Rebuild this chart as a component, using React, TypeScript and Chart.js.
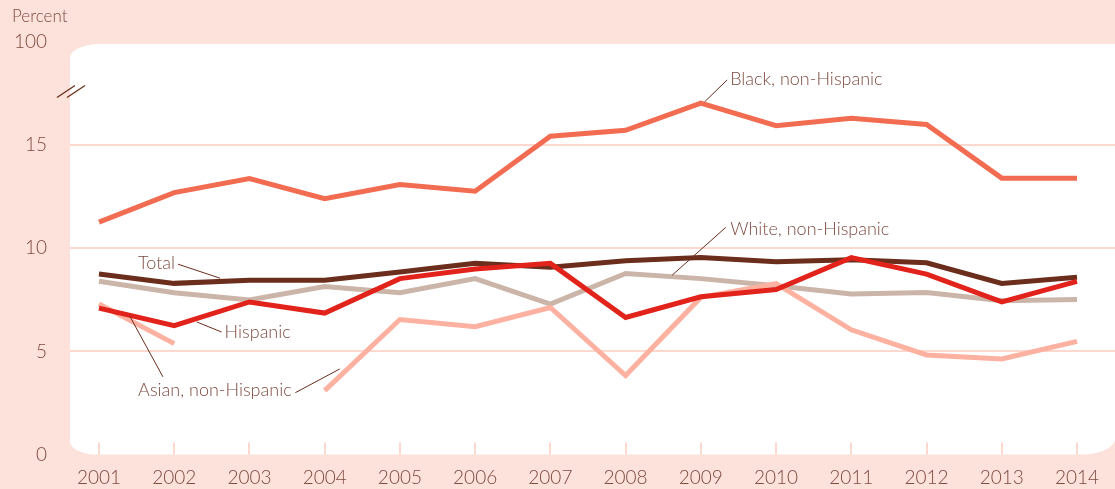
import React, { useEffect, useRef } from "react";
import { Chart, registerables } from "chart.js";

Chart.register(...registerables);

// ---------- data ----------
const years = [2001, 2002, 2003, 2004, 2005, 2006, 2007, 2008, 2009, 2010, 2011, 2012, 2013, 2014];
const blackNH = [11.27, 12.7, 13.38, 12.4, 13.09, 12.77, 15.43, 15.72, 17.04, 15.94, 16.3, 16.0, 13.4, 13.4];
const total = [8.75, 8.3, 8.45, 8.45, 8.85, 9.27, 9.08, 9.4, 9.55, 9.35, 9.45, 9.3, 8.3, 8.6];
const whiteNH = [8.4, 7.85, 7.5, 8.15, 7.85, 8.53, 7.3, 8.78, 8.53, 8.18, 7.78, 7.86, 7.46, 7.52];
const hispanic = [7.1, 6.25, 7.4, 6.86, 8.53, 9.0, 9.27, 6.65, 7.65, 8.0, 9.55, 8.75, 7.4, 8.4];
const asianNH: (number | null)[] = [7.3, 5.38, null, 3.1, 6.55, 6.2, 7.13, 3.83, 7.62, 8.29, 6.05, 4.83, 4.64, 5.49];
const yTicks = [0, 5, 10, 15, 20];
const yTickLabels = ["0", "5", "10", "15", "100"];
const gridValues = [5, 10, 15];

// label annotations in data units
const annotations: { text: string; x: number; y: number; leaders: number[][] }[] = [
  { text: "Black, non-Hispanic", x: 2009.39, y: 18.2, leaders: [[2009.05, 17.1, 2009.35, 18.16]] },
  { text: "White, non-Hispanic", x: 2009.39, y: 10.92, leaders: [[2009.33, 11.01, 2008.62, 8.7]] },
  { text: "Total", x: 2001.52, y: 9.28, leaders: [[2002.05, 9.23, 2002.61, 8.55]] },
  { text: "Hispanic", x: 2002.67, y: 5.94, leaders: [[2002.3, 6.43, 2002.63, 5.94]] },
  {
    text: "Asian, non-Hispanic",
    x: 2001.52,
    y: 3.14,
    leaders: [
      [2001.41, 6.71, 2001.85, 3.77],
      [2003.61, 3.0, 2004.2, 4.15],
    ],
  },
];

// ---------- style ----------
const BG = "#fde1db";
const GRID = "#fcd8cf";
const TEXT = "#7d4b40";
const LEADER = "#6b2d1c";
const FONT = "Lato";

const C_BLACK = "#f26c52";
const C_TOTAL = "#6b2d1c";
const C_WHITE = "#cbb5a9";
const C_HISP = "#e2231b";
const C_ASIAN = "#fdb1a1";

export default function App() {
  const ref = useRef<HTMLCanvasElement>(null);

  useEffect(() => {
    const canvas = ref.current!;

    const bgPlugin = {
      id: "bgPlugin",
      beforeDraw(chart: any) {
        const { ctx, chartArea: a } = chart;
        ctx.save();
        ctx.fillStyle = BG;
        ctx.fillRect(0, 0, chart.width, chart.height);
        const l = a.left;
        const t = a.top + 2;
        const r = chart.width;
        const b = a.bottom;
        const k = 0.45;
        ctx.fillStyle = "#ffffff";
        ctx.beginPath();
        ctx.moveTo(l, t + 14);
        ctx.bezierCurveTo(l, t + 14 * k, l + 30 * k, t, l + 30, t);
        ctx.lineTo(r, t);
        ctx.lineTo(r, b - 16);
        ctx.bezierCurveTo(r, b - 16 * k, r - 33 * k, b, r - 33, b);
        ctx.lineTo(l + 27, b);
        ctx.bezierCurveTo(l + 27 * k, b, l, b - 13 * k, l, b - 13);
        ctx.closePath();
        ctx.fill();
        ctx.restore();
      },
      beforeDatasetsDraw(chart: any) {
        const { ctx, chartArea: a, scales } = chart;
        ctx.save();
        ctx.strokeStyle = GRID;
        ctx.lineWidth = 2;
        for (const yr of years) {
          const x = Math.round(scales.x.getPixelForValue(yr));
          ctx.beginPath();
          ctx.moveTo(x, a.bottom);
          ctx.lineTo(x, a.bottom - 12);
          ctx.stroke();
        }
        ctx.restore();
      },
      afterDraw(chart: any) {
        const { ctx, chartArea: a, scales } = chart;
        const sx = scales.x;
        const sy = scales.y;
        ctx.save();
        // axis break marks
        const yc = sy.getPixelForValue(17.6);
        ctx.strokeStyle = LEADER;
        ctx.lineWidth = 1.4;
        for (const off of [0, 10]) {
          ctx.beginPath();
          ctx.moveTo(a.left - 13 + off, yc + 6);
          ctx.lineTo(a.left + 5 + off, yc - 6);
          ctx.stroke();
        }
        // annotations
        ctx.lineWidth = 1;
        ctx.strokeStyle = LEADER;
        ctx.fillStyle = TEXT;
        ctx.font = `300 18px ${FONT}`;
        ctx.textBaseline = "middle";
        ctx.textAlign = "left";
        for (const an of annotations) {
          for (const ln of an.leaders) {
            ctx.beginPath();
            ctx.moveTo(sx.getPixelForValue(ln[0]), sy.getPixelForValue(ln[1]));
            ctx.lineTo(sx.getPixelForValue(ln[2]), sy.getPixelForValue(ln[3]));
            ctx.stroke();
          }
          ctx.fillText(an.text, sx.getPixelForValue(an.x), sy.getPixelForValue(an.y));
        }
        // axis title
        ctx.font = `300 17px ${FONT}`;
        ctx.fillText("Percent", 12, 17);
        ctx.restore();
      },
    };

    const mk = (label: string, data: (number | null)[], color: string) => ({
      label,
      data: years.map((y, i) => ({ x: y, y: data[i] })),
      borderColor: color,
      backgroundColor: color,
      borderWidth: 5,
      pointRadius: 0,
      tension: 0,
      spanGaps: false,
      borderCapStyle: "butt" as const,
      borderJoinStyle: "miter" as const,
    });

    const chart = new Chart(canvas, {
      type: "line",
      data: {
        datasets: [
          mk("Hispanic", hispanic, C_HISP),
          mk("Total", total, C_TOTAL),
          mk("Asian, non-Hispanic", asianNH, C_ASIAN),
          mk("White, non-Hispanic", whiteNH, C_WHITE),
          mk("Black, non-Hispanic", blackNH, C_BLACK),
        ] as any,
      },
      options: {
        responsive: false,
        devicePixelRatio: 1,
        animation: false,
        layout: { padding: { top: 42, left: 0, right: 0, bottom: 0 } },
        plugins: { legend: { display: false }, tooltip: { enabled: false } },
        scales: {
          x: {
            type: "linear",
            min: 2000.615,
            max: 2014.505,
            afterBuildTicks: (s: any) => {
              s.ticks = years.map((v) => ({ value: v }));
            },
            afterFit: (s: any) => {
              s.height = 33;
            },
            grid: { display: false, drawTicks: false },
            border: { display: false },
            ticks: {
              autoSkip: false,
              maxRotation: 0,
              padding: 12,
              color: TEXT,
              font: { family: FONT, size: 19, weight: 300 as any },
              callback: (v: any) => String(v),
            },
          },
          y: {
            min: 0,
            max: 20,
            afterBuildTicks: (s: any) => {
              s.ticks = yTicks.map((v) => ({ value: v }));
            },
            afterFit: (s: any) => {
              s.width = 70;
            },
            grid: {
              drawTicks: false,
              lineWidth: 2,
              color: (c: any) => (gridValues.includes(c.tick?.value) ? GRID : "rgba(0,0,0,0)"),
            },
            border: { display: false },
            ticks: {
              padding: 23,
              color: TEXT,
              font: { family: FONT, size: 19, weight: 300 as any },
              callback: (v: any) => yTickLabels[yTicks.indexOf(Number(v))] ?? "",
            },
          },
        },
      },
      plugins: [bgPlugin],
    });

    return () => chart.destroy();
  }, []);

  return (
    <div style={{ position: "fixed", left: 0, top: 0, width: 1115, height: 489, background: BG }}>
      <canvas ref={ref} width={1115} height={489} style={{ display: "block" }} />
    </div>
  );
}
